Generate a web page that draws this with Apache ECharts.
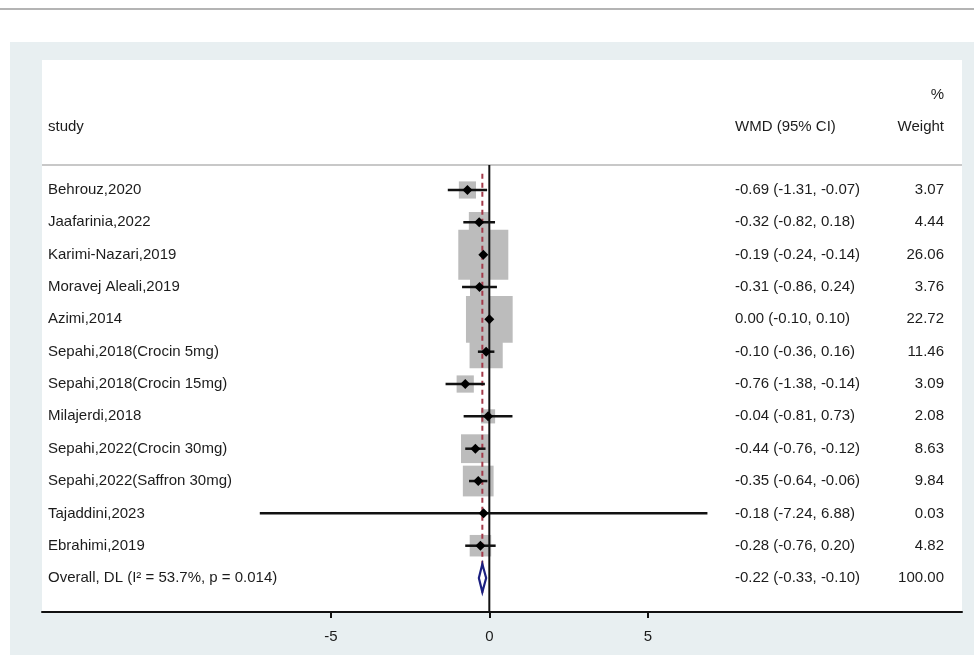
<!DOCTYPE html>
<html>
<head>
<meta charset="utf-8">
<script src="https://cdn.jsdelivr.net/npm/echarts@6/dist/echarts.min.js"></script>
<style>
html, body { margin: 0; padding: 0; background: #fff; }
#main { width: 974px; height: 655px; }
</style>
</head>
<body>
<div id="main"></div>
<script>
// study rows (top to bottom)
var studies = ['Behrouz,2020', 'Jaafarinia,2022', 'Karimi-Nazari,2019', 'Moravej Aleali,2019',
    'Azimi,2014', 'Sepahi,2018(Crocin 5mg)', 'Sepahi,2018(Crocin 15mg)', 'Milajerdi,2018',
    'Sepahi,2022(Crocin 30mg)', 'Sepahi,2022(Saffron 30mg)', 'Tajaddini,2023', 'Ebrahimi,2019'];
var wmd    = [-0.69, -0.32, -0.19, -0.31, 0.00, -0.10, -0.76, -0.04, -0.44, -0.35, -0.18, -0.28];
var lower  = [-1.31, -0.82, -0.24, -0.86, -0.10, -0.36, -1.38, -0.81, -0.76, -0.64, -7.24, -0.76];
var upper  = [-0.07, 0.18, -0.14, 0.24, 0.10, 0.16, -0.14, 0.73, -0.12, -0.06, 6.88, 0.20];
var weight = [3.07, 4.44, 26.06, 3.76, 22.72, 11.46, 3.09, 2.08, 8.63, 9.84, 0.03, 4.82];

var overallLabel = 'Overall, DL (I\u00b2 = 53.7%, p = 0.014)';
var overall = [-0.22, -0.33, -0.10, 100.00];
var xTicks = [-5, 0, 5];

var XMIN = -14.11, XMAX = 14.91;
var YMIN = -4.02, YMAX = 13.05;
var FONT = '"Liberation Sans", Arial, sans-serif';
var TXT = '#1c1c1c';

function ciText(e, l, u) {
    return e.toFixed(2) + ' (' + l.toFixed(2) + ', ' + u.toFixed(2) + ')';
}

var rows = [];
for (var i = 0; i < studies.length; i++) {
    rows.push([i, wmd[i], lower[i], upper[i], weight[i]]);
}
var nOverall = studies.length;

// text table: row, name, ci, weight
var table = [];
for (var i = 0; i < studies.length; i++) {
    table.push([i, studies[i], ciText(wmd[i], lower[i], upper[i]), weight[i].toFixed(2)]);
}
table.push([nOverall, overallLabel, ciText(overall[0], overall[1], overall[2]), overall[3].toFixed(2)]);

function txt(x, y, s, align) {
    return {
        type: 'text', x: x, y: y,
        style: { text: s, fill: TXT, font: '15px ' + FONT, align: align || 'left', verticalAlign: 'middle' }
    };
}

var myChart = echarts.init(document.getElementById('main'));

var option = {
    backgroundColor: '#fff',
    animation: false,
    graphic: [
        { type: 'rect', z: -10, shape: { x: 10, y: 42, width: 964, height: 613 }, style: { fill: '#e8eff1' } },
        { type: 'line', z: -10, shape: { x1: 0, y1: 9, x2: 974, y2: 9 }, style: { stroke: '#b4b4b4', lineWidth: 2 } }
    ],
    grid: { show: true, backgroundColor: '#fff', borderWidth: 0, left: 42, right: 12, top: 60, bottom: 43 },
    xAxis: {
        type: 'value', min: XMIN, max: XMAX,
        axisLine: { show: true, onZero: false, lineStyle: { color: '#111', width: 2 } },
        axisTick: { show: true, customValues: xTicks, length: 6, lineStyle: { color: '#111', width: 2 } },
        axisLabel: { customValues: xTicks, fontSize: 15, color: TXT, margin: 17, fontFamily: FONT },
        splitLine: { show: false }
    },
    yAxis: { type: 'value', inverse: true, min: YMIN, max: YMAX, show: false },
    series: [
        // weight boxes
        {
            type: 'custom', z: 1, data: rows, silent: true,
            renderItem: function (params, api) {
                var r = api.value(0);
                var c = api.coord([api.value(1), r]);
                var side = 9.8 * Math.sqrt(api.value(4));
                return { type: 'rect', shape: { x: c[0] - side / 2, y: c[1] - side / 2, width: side, height: side },
                    style: { fill: '#bcbcbc' } };
            }
        },
        // reference lines + header rule
        {
            type: 'custom', z: 2, data: [[0]], silent: true,
            renderItem: function (params, api) {
                var z1 = api.coord([0, -0.77]), z2 = api.coord([0, YMAX]);
                var o1 = api.coord([overall[0], -0.5]), o2 = api.coord([overall[0], 12.5]);
                var h1 = api.coord([XMIN, -0.77]), h2 = api.coord([XMAX, -0.77]);
                return { type: 'group', children: [
                    { type: 'line', shape: { x1: h1[0], y1: h1[1], x2: h2[0], y2: h2[1] }, style: { stroke: '#c8c8c8', lineWidth: 2 } },
                    { type: 'line', shape: { x1: z1[0], y1: z1[1], x2: z2[0], y2: z2[1] }, style: { stroke: '#111', lineWidth: 2 } },
                    { type: 'line', shape: { x1: o1[0], y1: o1[1], x2: o2[0], y2: o2[1] }, style: { stroke: '#a33a4a', lineWidth: 2, lineDash: [5, 4] } }
                ] };
            }
        },
        // CI lines and point estimates
        {
            type: 'custom', z: 3, data: rows, silent: true,
            renderItem: function (params, api) {
                var r = api.value(0);
                var c = api.coord([api.value(1), r]);
                var lo = api.coord([api.value(2), r]);
                var hi = api.coord([api.value(3), r]);
                var d = 5;
                return { type: 'group', children: [
                    { type: 'line', shape: { x1: lo[0], y1: c[1], x2: hi[0], y2: c[1] }, style: { stroke: '#111', lineWidth: 2.5 } },
                    { type: 'polygon', shape: { points: [[c[0] - d, c[1]], [c[0], c[1] - d], [c[0] + d, c[1]], [c[0], c[1] + d]] }, style: { fill: '#000' } }
                ] };
            }
        },
        // overall diamond
        {
            type: 'custom', z: 4, data: [[nOverall].concat(overall)], silent: true,
            renderItem: function (params, api) {
                var r = api.value(0);
                var c = api.coord([api.value(1), r]);
                var lo = api.coord([api.value(2), r]);
                var hi = api.coord([api.value(3), r]);
                var h = 14;
                return { type: 'polygon',
                    shape: { points: [[lo[0], c[1]], [c[0], c[1] - h], [hi[0], c[1]], [c[0], c[1] + h]] },
                    style: { fill: '#fff', stroke: '#1b2080', lineWidth: 2.2 } };
            }
        },
        // text columns
        {
            type: 'custom', z: 5, data: table, silent: true,
            renderItem: function (params, api) {
                var r = api.value(0);
                var y = api.coord([0, r])[1];
                var kids = [
                    txt(48, y, table[params.dataIndex][1]),
                    txt(735, y, table[params.dataIndex][2]),
                    txt(944, y, table[params.dataIndex][3], 'right')
                ];
                if (params.dataIndex === 0) {
                    var yh = api.coord([0, -1.95])[1];
                    var yp = api.coord([0, -2.94])[1];
                    kids.push(txt(48, yh, 'study'));
                    kids.push(txt(735, yh, 'WMD (95% CI)'));
                    kids.push(txt(944, yh, 'Weight', 'right'));
                    kids.push(txt(944, yp, '%', 'right'));
                }
                return { type: 'group', children: kids };
            }
        }
    ]
};

myChart.setOption(option);
</script>
</body>
</html>
